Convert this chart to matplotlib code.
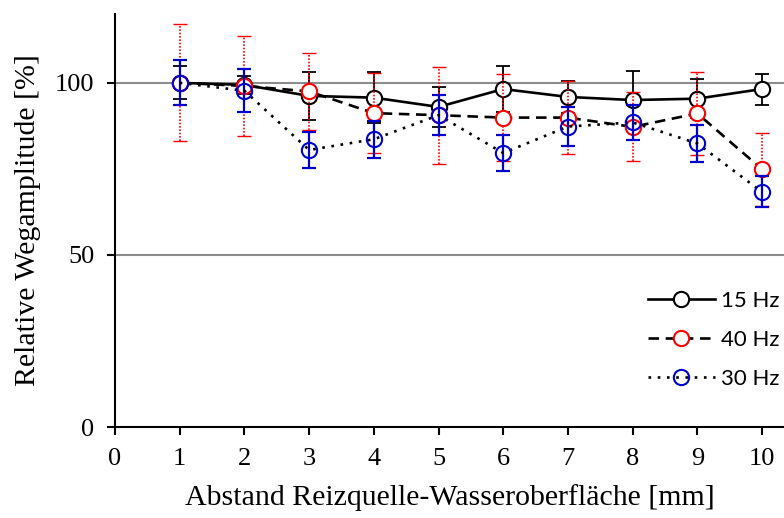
import matplotlib
matplotlib.use("Agg")
import matplotlib.pyplot as plt
import numpy as np

# Daten
abstand = [1, 2, 3, 4, 5, 6, 7, 8, 9, 10]

amp_15 = [100, 99.4, 96.2, 95.7, 93.0, 98.2, 95.9, 95.0, 95.4, 98.2]
err_15 = [4.8, 2.6, 7.0, 7.5, 5.7, 6.7, 4.6, 8.3, 5.6, 4.5]

amp_40 = [100, 99.1, 97.5, 91.2, 90.6, 89.9, 89.9, 87.2, 91.1, 74.9]
err_40 = [17.0, 14.5, 11.2, 11.6, 14.1, 12.7, 10.6, 10.0, 12.1, 10.6]

amp_30 = [100, 97.7, 80.5, 83.6, 90.6, 79.6, 87.3, 88.5, 82.4, 68.3]
err_30 = [6.5, 6.3, 5.2, 5.3, 5.8, 5.2, 5.7, 5.0, 5.4, 4.5]

serif = ["Liberation Serif", "DejaVu Serif"]
sans = ["Lato", "DejaVu Sans"]

fig = plt.figure(figsize=(7.84, 5.18), dpi=100)
ax = fig.add_axes([115 / 784, 91 / 518, 1 - 115 / 784, (427 - 14) / 518])

# Gitterlinien
for yv in [50, 100]:
    ax.axhline(yv, color="#8c8c8c", lw=1.5, zorder=1)

# 15 Hz
ax.errorbar(abstand, amp_15, yerr=err_15, fmt="none", ecolor="black",
            elinewidth=1.3, capsize=5, capthick=1.3, zorder=2)
l15, = ax.plot(abstand, amp_15, "-", color="black", lw=1.9, marker="o",
               ms=11, mfc="white", mec="black", mew=1.5, zorder=3,
               label="15 Hz")

# 40 Hz
eb = ax.errorbar(abstand, amp_40, yerr=err_40, fmt="none", ecolor="red",
                 elinewidth=1.2, capsize=5, capthick=1.0, zorder=4)
eb[2][0].set_linestyle((0, (1, 1)))
l40, = ax.plot(abstand, amp_40, color="black", lw=1.9, ls=(0, (4, 2.5)),
               marker="o", ms=11, mfc="white", mec="red", mew=1.5, zorder=5,
               label="40 Hz")

# 30 Hz
ax.errorbar(abstand, amp_30, yerr=err_30, fmt="none", ecolor="#0000cc",
            elinewidth=1.6, capsize=5, capthick=1.6, zorder=6)
l30, = ax.plot(abstand, amp_30, color="black", lw=1.9, ls=(0, (1, 2.5)),
               marker="o", ms=11, mfc="none", mec="#0000cc", mew=1.5, zorder=7,
               label="30 Hz")

ax.set_xlim(0, 10.34)
ax.set_ylim(0, 120)
ax.set_xticks(range(0, 11))
ax.set_yticks([0, 50, 100])

for s in ["top", "right"]:
    ax.spines[s].set_visible(False)
for s in ["left", "bottom"]:
    ax.spines[s].set_linewidth(1.5)
ax.spines["bottom"].set_zorder(8)

ax.tick_params(direction="out", length=6, width=1.5, labelsize=19, pad=9)
for lab in ax.get_xticklabels() + ax.get_yticklabels():
    lab.set_family(serif)

ax.set_xlabel("Abstand Reizquelle-Wasseroberfläche [mm]", fontsize=21.5,
              family=serif, labelpad=10)
ax.set_ylabel("Relative Wegamplitude [%]", fontsize=21.5, family=serif,
              labelpad=10)

leg = fig.legend(handles=[l15, l40, l30], loc="center left",
                 bbox_to_anchor=(648 / 784, 1 - 340 / 518), frameon=False,
                 prop={"family": sans, "size": 16}, handlelength=3.0,
                 handletextpad=0.3, labelspacing=0.85, borderpad=0,
                 borderaxespad=0)

fig.savefig("out.png", dpi=100)
